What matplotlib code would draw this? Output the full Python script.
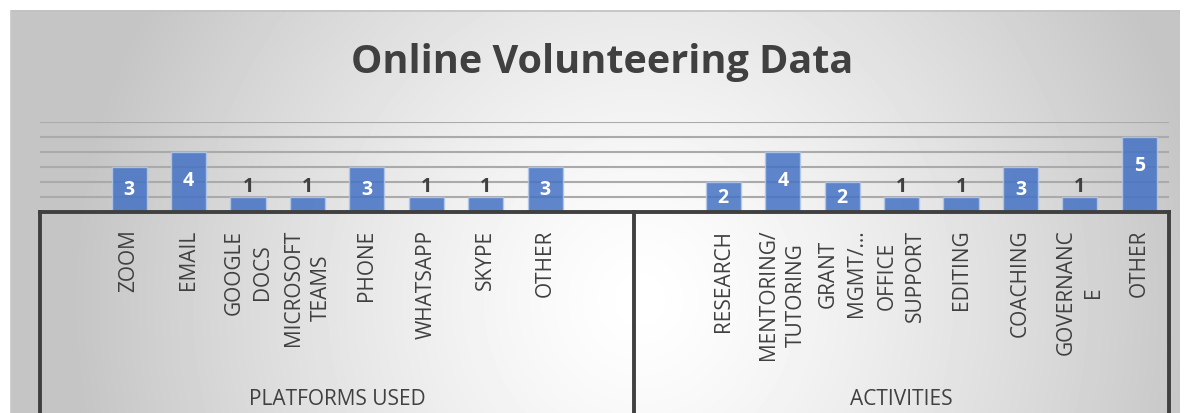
import numpy as np
import matplotlib
matplotlib.use("Agg")
import matplotlib.pyplot as plt

plt.rcParams['font.family'] = ['Open Sans', 'DejaVu Sans']

# ---- data ----
platforms = ["ZOOM", "EMAIL", "GOOGLE\nDOCS", "MICROSOFT\nTEAMS", "PHONE",
             "WHATSAPP", "SKYPE", "OTHER"]
platform_counts = [3, 4, 1, 1, 3, 1, 1, 3]
activities = ["RESEARCH", "MENTORING/\nTUTORING", "GRANT\nMGMT/…", "OFFICE\nSUPPORT",
              "EDITING", "COACHING", "GOVERNANC\nE", "OTHER"]
activity_counts = [2, 4, 2, 1, 1, 3, 1, 5]
groups = ["PLATFORMS USED", "ACTIVITIES"]
title = "Online Volunteering Data"

W, H = 1184, 414
fig = plt.figure(figsize=(W / 100, H / 100), dpi=100)
fig.patch.set_facecolor('white')


def frect(x0, y0, x1, y1):
    return [x0 / W, 1 - y1 / H, (x1 - x0) / W, (y1 - y0) / H]


# background gradient of chart area
bg = fig.add_axes(frect(10, 11, 1180, 414))
yy, xx = np.mgrid[11:414, 10:1180]
d = np.sqrt(((xx - 640) / 570.0) ** 2 + ((yy - 300) / 600.0) ** 2)
g = 1 - 0.23 * np.clip(d, 0, 1) ** 1.3
bg.imshow(g, cmap='gray', vmin=0, vmax=1, aspect='auto', interpolation='bilinear',
          extent=(10, 1180, 414, 11))
bg.plot([10, 1180], [11.5, 11.5], color='#c2c2c2', lw=1.2)
bg.plot([10.5, 10.5], [11, 414], color='#d0d0d0', lw=1.0)
bg.set_xlim(10, 1180)
bg.set_ylim(414, 11)
bg.set_axis_off()

# main plot axes
ax = fig.add_axes(frect(40, 123, 1169, 213))
n_p, n_a = len(platforms), len(activities)
pos_p = 1 + np.arange(n_p)
pos_a = pos_p[-1] + 3 + np.arange(n_a)
bounds = [-0.5, pos_p[-1] + 1.5, pos_a[-1] + 0.5]
ax.set_xlim(bounds[0], bounds[-1])
ax.set_ylim(0, 6)
ax.patch.set_alpha(0)
for s in ax.spines.values():
    s.set_visible(False)
ax.set_yticks(range(1, 7))
ax.tick_params(axis='y', length=0, labelleft=False)
ax.yaxis.grid(True, color='#aaaaaa', lw=1.5)
ax.set_axisbelow(True)

positions = np.concatenate([pos_p, pos_a])
values = platform_counts + activity_counts
ax.bar(positions, values, width=0.59, color='#4472C4', alpha=0.85,
       edgecolor='#b4c8ea', linewidth=1.0, zorder=3)

for x, v in zip(positions, values):
    if v >= 2:
        ax.text(x, max(v / 2, v - 1.9), str(v), ha='center', va='center',
                color='white', fontsize=14, fontweight='bold', zorder=6)
    else:
        ax.annotate(str(v), (x, v), xytext=(0, 8), textcoords='offset points',
                    ha='center', va='center', color='#404040', fontsize=14,
                    fontweight='bold', zorder=6)

# axis lines (multi-level category axis)
ax.plot([bounds[0], bounds[-1]], [0, 0], color='#404040', lw=2.8,
        solid_capstyle='projecting', clip_on=False, zorder=5)
trans = ax.get_xaxis_transform()
for b in bounds:
    ax.plot([b, b], [0, -2.23], transform=trans, color='#404040', lw=2.8,
            clip_on=False, zorder=5)

ax.set_xticks(positions)
ax.set_xticklabels(platforms + activities, rotation=90, fontsize=15,
                   color='#404040', linespacing=1.45)
for lbl in ax.get_xticklabels():
    lbl.set_multialignment('center')
ax.tick_params(axis='x', length=0, pad=12)

for i, name in enumerate(groups):
    cx = (bounds[i] + bounds[i + 1]) / 2
    ax.text(cx, -2.13, name, transform=trans, ha='center', va='baseline',
            fontsize=15, color='#404040')

fig.text(602 / W, 1 - 73 / H, title, ha='center', va='baseline', fontsize=28.5,
         fontweight='bold', color='#404040')

fig.savefig('out.png', dpi=100)
